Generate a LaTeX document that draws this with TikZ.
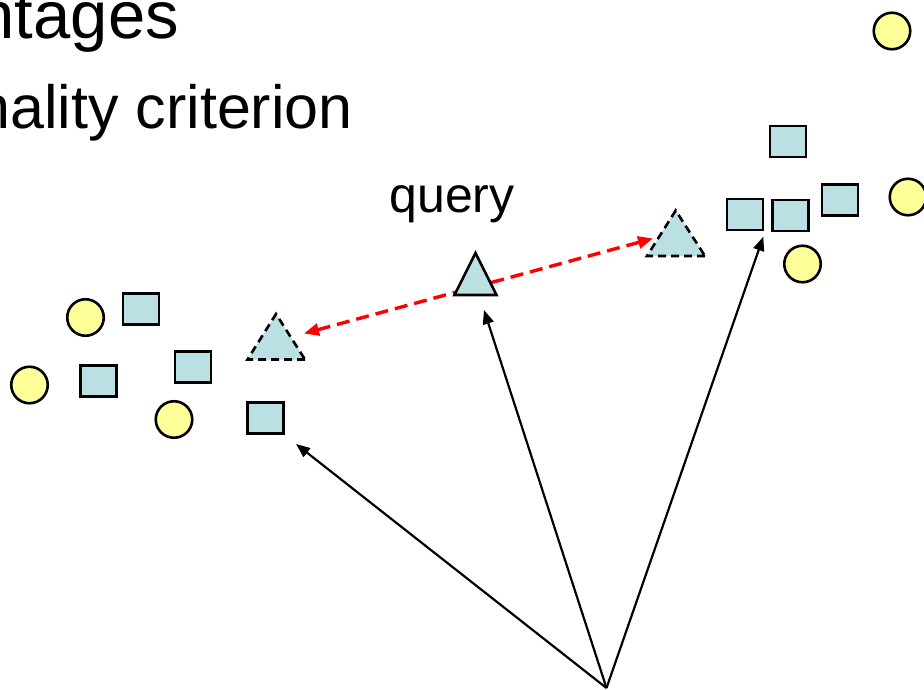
\documentclass[tikz,border=0pt]{standalone}
\usepackage{fontspec}
\setmainfont{Liberation Sans}
\usetikzlibrary{arrows.meta}
\definecolor{ylw}{HTML}{FFFF99}
\definecolor{blu}{HTML}{BBE0E3}
\definecolor{redarr}{HTML}{FF0000}
\tikzset{
  dot/.style={circle,draw=black,fill=ylw,line width=2.6pt,minimum size=36.5pt,inner sep=0pt},
  sq/.style={rectangle,draw=black,fill=blu,line width=2.6pt,minimum width=36pt,minimum height=31pt,inner sep=0pt},
  tri/.style={draw=black,fill=blu,line width=2.6pt,line join=miter},
  dtri/.style={fill=blu},
  dtriline/.style={draw=black,line width=2.6pt,dash pattern=on 8pt off 5pt},
  ptr/.style={draw=black,line width=2.2pt,-{Triangle[length=14pt,width=11pt]}},
  cmp/.style={draw=redarr,line width=3.4pt,dash pattern=on 13pt off 7pt,{Triangle[length=15pt,width=12pt]}-{Triangle[length=15pt,width=12pt]}},
  txt/.style={inner sep=0pt,text=black}
}
\begin{document}
\begin{tikzpicture}[x=1pt,y=-1pt]
\path[fill=white] (0,0) rectangle (924,690);
\useasboundingbox (0,0) rectangle (924,690);
\clip (0,0) rectangle (924,690);
% texts
\node[txt,anchor=base east,font=\fontsize{67}{72}\selectfont] (title) at (179,39) {ntages};
\node[txt,anchor=base east,font=\fontsize{61}{66}\selectfont] (crit) at (353,129) {nality criterion};
\node[txt,anchor=base,font=\fontsize{50}{56}\selectfont] (qlbl) at (452,212) {query};
% circles
\node[dot] (c1) at (892,31) {};
\node[dot] (c2) at (908,197) {};
\node[dot] (c3) at (802.5,264) {};
\node[dot] (c4) at (85.5,317.5) {};
\node[dot] (c5) at (29.5,385) {};
\node[dot] (c6) at (174,419.5) {};
% squares
\node[sq] (s1) at (141,308.7) {};
\node[sq] (s2) at (98.3,381) {};
\node[sq] (s3) at (193,367) {};
\node[sq] (s4) at (265.5,418) {};
\node[sq] (s5) at (788,141.7) {};
\node[sq] (s6) at (745,214.5) {};
\node[sq] (s7) at (790.5,215.5) {};
\node[sq] (s8) at (840,200) {};
% dashed triangle right
\coordinate (ra) at (675.7,210.5);
\coordinate (rb) at (647,256);
\coordinate (rc) at (705,256);
\fill[dtri] (rb) -- (ra) -- (rc) -- cycle;
\draw[dtriline] (rc) -- (rb) -- (ra) -- (rc);
% dashed triangle left
\coordinate (la) at (276,314);
\coordinate (lb) at (247.5,359.5);
\coordinate (lc) at (305,359.5);
\fill[dtri] (lb) -- (la) -- (lc) -- cycle;
\draw[dtriline] (lc) -- (lb) -- (la) -- (lc);
% red comparison arrow
\coordinate (lt) at (304,333.5);
\coordinate (rt) at (653,238.5);
\draw[cmp] (lt) -- (rt);
% query triangle (on top of the red arrow)
\coordinate (qa) at (475.5,253);
\coordinate (qb) at (454.5,295);
\coordinate (qc) at (496.5,295);
\draw[tri] (qb) -- (qa) -- (qc) -- cycle;
% black arrows
\coordinate (o) at (606.5,688);
\coordinate (t1) at (296,444);
\coordinate (t2) at (484,310);
\coordinate (t3) at (763.3,236.7);
\draw[ptr] (o) -- (t1);
\draw[ptr] (o) -- (t2);
\draw[ptr] (o) -- (t3);
\end{tikzpicture}
\end{document}
